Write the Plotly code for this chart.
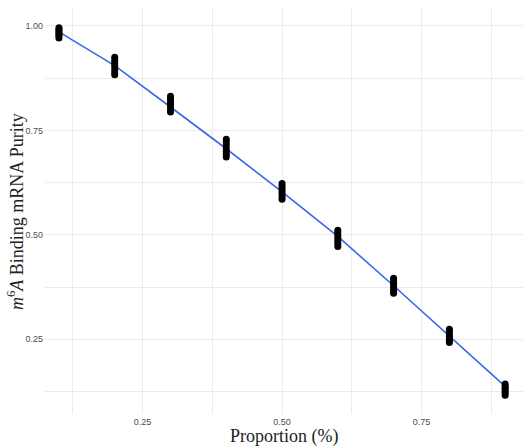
import plotly.graph_objects as go

# Proportion levels on the x axis
proportions = [0.1, 0.2, 0.3, 0.4, 0.5, 0.6, 0.7, 0.8, 0.9]

# Measured purity replicates at each proportion
purity_01 = [0.996, 0.992, 0.988, 0.984, 0.980, 0.976, 0.971]
purity_02 = [0.925, 0.918, 0.911, 0.904, 0.897, 0.890, 0.883]
purity_03 = [0.832, 0.826, 0.820, 0.813, 0.807, 0.800, 0.794]
purity_04 = [0.729, 0.722, 0.715, 0.708, 0.700, 0.693, 0.686]
purity_05 = [0.623, 0.617, 0.611, 0.604, 0.598, 0.591, 0.585]
purity_06 = [0.511, 0.505, 0.498, 0.492, 0.485, 0.479, 0.472]
purity_07 = [0.396, 0.390, 0.384, 0.378, 0.372, 0.366, 0.360]
purity_08 = [0.274, 0.269, 0.263, 0.258, 0.253, 0.247, 0.242]
purity_09 = [0.143, 0.138, 0.134, 0.130, 0.125, 0.121, 0.116]

# Smoothed trend evaluated at each proportion
trend = [0.986, 0.905, 0.806, 0.706, 0.603, 0.496, 0.378, 0.258, 0.137]

groups = [purity_01, purity_02, purity_03, purity_04, purity_05,
          purity_06, purity_07, purity_08, purity_09]

xs, ys = [], []
for p, vals in zip(proportions, groups):
    xs.extend([p] * len(vals))
    ys.extend(vals)

fig = go.Figure()

fig.add_trace(go.Scatter(
    x=proportions, y=trend, mode="lines",
    line=dict(color="#3A66E8", width=1.6),
    hoverinfo="skip", showlegend=False,
))

fig.add_trace(go.Scatter(
    x=xs, y=ys, mode="markers",
    marker=dict(color="black", size=7, line=dict(width=0)),
    showlegend=False,
))

grid = "#EBEBEB"
tick_font = dict(family="Liberation Sans, Arial, sans-serif", size=9, color="#4D4D4D")
title_font = dict(family="Liberation Serif, Times New Roman, serif", size=18, color="#222222")

fig.update_layout(
    width=523, height=446,
    margin=dict(l=45, r=0, t=8, b=32),
    paper_bgcolor="white", plot_bgcolor="white",
    xaxis=dict(
        range=[0.075, 0.932], tick0=0, dtick=0.25, tickformat=".2f",
        showgrid=True, gridcolor=grid, gridwidth=1,
        minor=dict(dtick=0.125, tick0=0, showgrid=True, gridcolor=grid, gridwidth=0.6),
        zeroline=False, showline=False, ticks="", tickfont=tick_font,
        ticklabelstandoff=1,
    ),
    yaxis=dict(
        range=[0.071, 1.043], tick0=0, dtick=0.25, tickformat=".2f",
        showgrid=True, gridcolor=grid, gridwidth=1,
        minor=dict(dtick=0.125, tick0=0, showgrid=True, gridcolor=grid, gridwidth=0.6),
        zeroline=False, showline=False, ticks="", tickfont=tick_font,
        ticklabelstandoff=1,
    ),
    annotations=[
        dict(text="Proportion (%)", xref="paper", yref="paper",
             x=0.5, y=-0.0557, xanchor="center", yanchor="middle",
             showarrow=False, font=title_font),
        dict(text="<i>m</i><sup>6</sup><i>A</i> Binding mRNA Purity",
             xref="paper", yref="paper", x=-0.0628, y=0.5,
             xanchor="center", yanchor="middle", textangle=-90,
             showarrow=False, font=title_font),
    ],
)

fig.write_html("out.html")
